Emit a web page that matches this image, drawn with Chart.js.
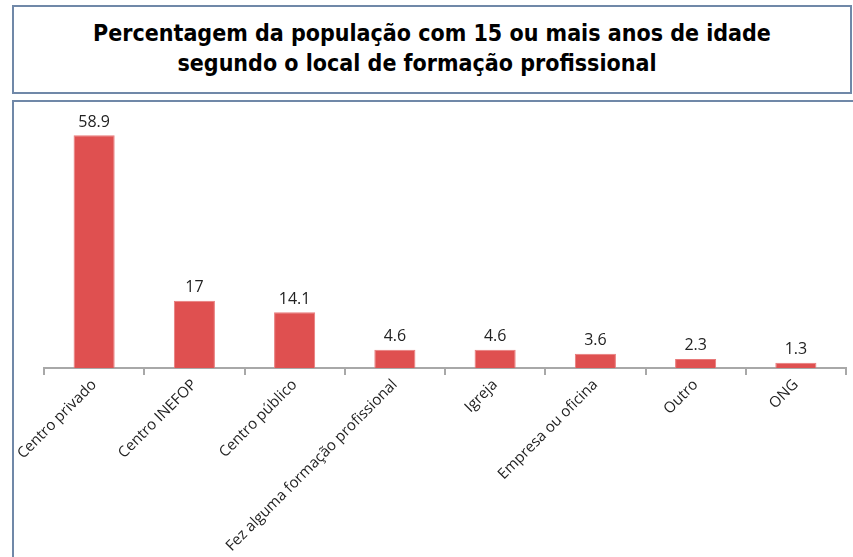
<!DOCTYPE html>
<html>
<head>
<meta charset="utf-8">
<script src="https://cdn.jsdelivr.net/npm/chart.js@4.4.0/dist/chart.umd.min.js"></script>
<style>
  html, body { margin: 0; padding: 0; background: #fff; width: 853px; height: 557px; overflow: hidden; }
  #titleBox {
    position: absolute; left: 12px; top: 5px; width: 836px; height: 85px;
    border: 2px solid #7088a8; box-sizing: content-box;
    font-family: "DejaVu Sans Condensed", "DejaVu Sans", sans-serif;
    font-weight: bold; font-size: 23px; color: #000; text-align: center;
  }
  #titleBox div { position: absolute; left: 0; right: 0; }
  #chartBox {
    position: absolute; left: 12px; top: 100px; width: 900px; height: 500px;
    border: 2px solid #7088a8;
  }
  #chartWrap { position: absolute; left: 0; top: 0; width: 853px; height: 557px; }
</style>
</head>
<body>
<div id="titleBox">
  <div style="top:13px">Percentagem da população com 15 ou mais anos de idade</div>
  <div style="top:43px; left:-30px">segundo o local de formação profissional</div>
</div>
<div id="chartBox"></div>
<div id="chartWrap"><canvas id="chart" width="853" height="557"></canvas></div>
<script>
const categories = [
    'Centro privado',
    'Centro INEFOP',
    'Centro público',
    'Fez alguma formação profissional',
    'Igreja',
    'Empresa ou oficina',
    'Outro',
    'ONG'
];
const values = [58.9, 17, 14.1, 4.6, 4.6, 3.6, 2.3, 1.3];

// value labels above each bar
const valueLabels = {
    id: 'valueLabels',
    afterDatasetsDraw(chart) {
        const ctx = chart.ctx;
        const meta = chart.getDatasetMeta(0);
        ctx.save();
        ctx.font = '16px "Open Sans", sans-serif';
        ctx.fillStyle = '#222';
        ctx.textAlign = 'center';
        ctx.textBaseline = 'bottom';
        meta.data.forEach((bar, i) => {
            ctx.fillText(String(values[i]), bar.x, bar.y - 5);
        });
        ctx.restore();
    }
};

const chart = new Chart(document.getElementById('chart').getContext('2d'), {
    type: 'bar',
    data: {
        labels: categories,
        datasets: [{
            data: values,
            backgroundColor: '#df5050',
            borderColor: '#e87a7a',
            borderWidth: 1,
            categoryPercentage: 1,
            barPercentage: 0.41
        }]
    },
    options: {
        responsive: false,
        animation: false,
        layout: { padding: { left: 44, right: 7, top: 131, bottom: 0 } },
        plugins: { legend: { display: false }, tooltip: { enabled: false } },
        scales: {
            y: { display: false, min: 0, max: 60 },
            x: {
                afterFit: (scale) => { scale.height = 189; },
                grid: {
                    offset: true,
                    drawOnChartArea: false,
                    drawTicks: true,
                    tickLength: 7,
                    color: '#a8a8a8',
                    lineWidth: 2
                },
                border: { display: true, color: '#a8a8a8', width: 2 },
                ticks: {
                    minRotation: 45,
                    maxRotation: 45,
                    autoSkip: false,
                    padding: 1,
                    color: '#222',
                    font: { family: '"Open Sans", sans-serif', size: 15 }
                }
            }
        }
    },
    plugins: [valueLabels]
});
</script>
</body>
</html>
